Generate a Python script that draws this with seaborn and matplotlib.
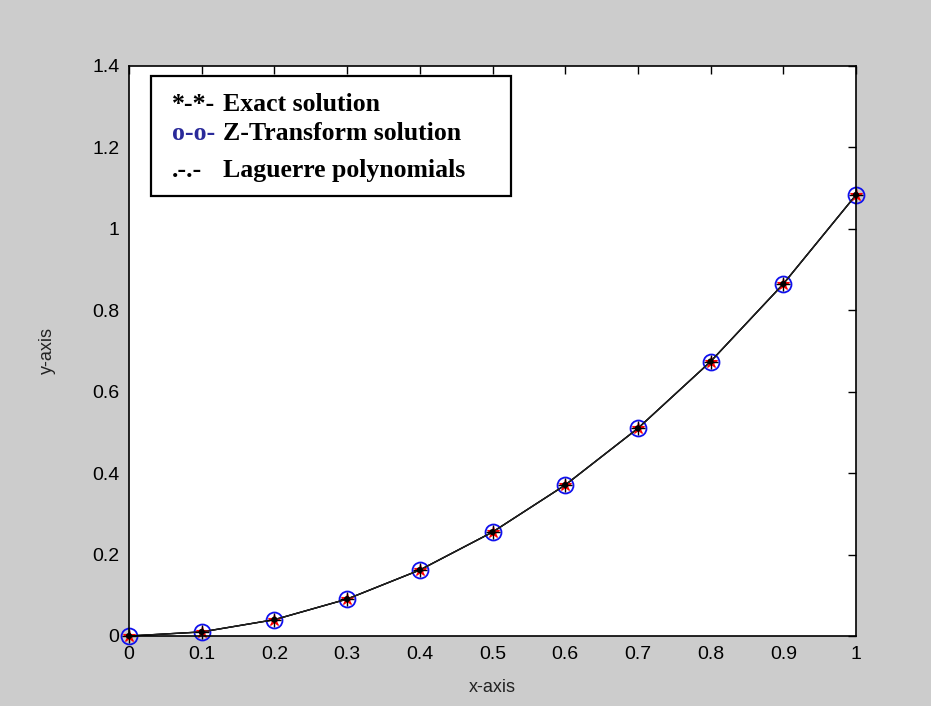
import numpy as np
import pandas as pd
import matplotlib
matplotlib.use("Agg")
import matplotlib.pyplot as plt
from matplotlib.patches import Rectangle
import seaborn as sns

# data
x_vals = [0.0, 0.1, 0.2, 0.3, 0.4, 0.5, 0.6, 0.7, 0.8, 0.9, 1.0]
exact = [0.0, 0.0100, 0.0401, 0.0907, 0.1621, 0.2552, 0.3708, 0.5100, 0.6741, 0.8647, 1.0833]
ztrans = [0.0, 0.0100, 0.0401, 0.0907, 0.1621, 0.2552, 0.3708, 0.5100, 0.6741, 0.8647, 1.0833]
laguerre = [0.0, 0.0100, 0.0401, 0.0907, 0.1621, 0.2552, 0.3708, 0.5100, 0.6741, 0.8647, 1.0833]
x_ticks = [0, 0.1, 0.2, 0.3, 0.4, 0.5, 0.6, 0.7, 0.8, 0.9, 1]
y_ticks = [0, 0.2, 0.4, 0.6, 0.8, 1, 1.2, 1.4]
legend_marks = ["*-*-", "o-o-", ".-.-"]
legend_texts = ["Exact solution", "Z-Transform solution", "Laguerre polynomials"]

df = pd.DataFrame({"x": x_vals, "exact": exact, "ztrans": ztrans, "laguerre": laguerre})

sns.set_style("white")
plt.rcParams["font.family"] = ["Liberation Sans", "DejaVu Sans"]

fig = plt.figure(figsize=(9.31, 7.06), dpi=100, facecolor="#cccccc")
ax = fig.add_axes([129/931, 1-636/706, (856-129)/931, (636-66)/706])
ax.set_facecolor("white")

# Z-transform: blue open circles
sns.lineplot(data=df, x="x", y="ztrans", ax=ax, color="black", linewidth=1.0,
             marker="o", markersize=11.5, markerfacecolor="none",
             markeredgecolor="#1010ee", markeredgewidth=1.3, clip_on=False)
# Exact: red asterisks
sns.lineplot(data=df, x="x", y="exact", ax=ax, color="black", linewidth=1.0,
             marker="*", markersize=9, markerfacecolor="red",
             markeredgecolor="red", markeredgewidth=0.8, clip_on=False)
# Laguerre: black dots / plus
sns.lineplot(data=df, x="x", y="laguerre", ax=ax, color="#222222", linewidth=0.9,
             linestyle="-", marker="+", markersize=10, markeredgecolor="black",
             markeredgewidth=1.0, clip_on=False)
sns.scatterplot(data=df, x="x", y="laguerre", ax=ax, color="black", s=20,
                edgecolor="none", zorder=5, clip_on=False)

ax.set_xlim(0, 1)
ax.set_ylim(0, 1.4)
ax.set_xticks(x_ticks)
ax.set_xticklabels([f"{t:g}" for t in x_ticks])
ax.set_yticks(y_ticks)
ax.set_yticklabels([f"{t:g}" for t in y_ticks])
ax.tick_params(direction="in", length=6, width=1.0, top=True, right=True,
               labelsize=14, pad=7, colors="black")
for s in ax.spines.values():
    s.set_visible(True)
    s.set_color("black")
    s.set_linewidth(1.2)

ax.set_xlabel("x-axis", fontsize=13, labelpad=12, color="#222222")
ax.set_ylabel("y-axis", fontsize=13, labelpad=26, color="#222222")

# custom legend box
rect = Rectangle((151/931, 1-196/706), 360/931, 120/706, transform=fig.transFigure,
                 facecolor="white", edgecolor="black", linewidth=1.6, zorder=10)
fig.patches.append(rect)
baselines = [110.7, 140, 176.7]
mark_colors = ["black", "#2a2a9a", "black"]
for mk, tx, yb, mc in zip(legend_marks, legend_texts, baselines, mark_colors):
    fig.text(172/931, 1-yb/706, mk, family=["Liberation Serif"], weight="bold",
             fontsize=18.5, color=mc, va="baseline", ha="left", zorder=11)
    fig.text(223/931, 1-yb/706, tx, family=["Liberation Serif"], weight="bold",
             fontsize=18.5, color="black", va="baseline", ha="left", zorder=11)

fig.savefig("out.png", dpi=100, facecolor=fig.get_facecolor())
